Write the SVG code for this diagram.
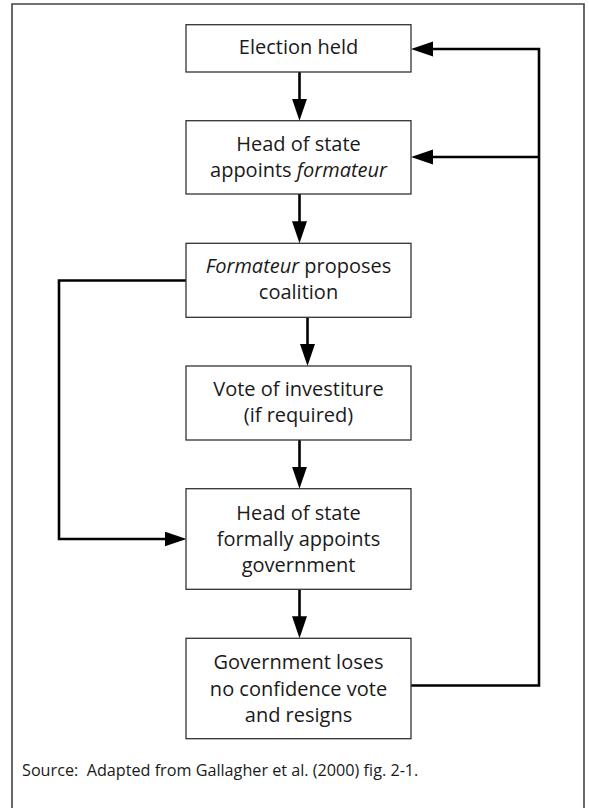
<svg xmlns="http://www.w3.org/2000/svg" width="589" height="808" viewBox="0 0 589 808">
<style>
.box{fill:#fff;stroke:#333;stroke-width:1.3}
.t{font-family:"Open Sans","Noto Sans",sans-serif;font-size:20px;fill:#1a1a1a;text-anchor:middle}
.i{font-style:italic}
.c{fill:none;stroke:#000;stroke-width:2.6;stroke-linejoin:miter}
.src{font-family:"Open Sans","Noto Sans",sans-serif;font-size:16.2px;fill:#1a1a1a}
</style>
<defs>
<marker id="ah" markerUnits="userSpaceOnUse" markerWidth="24" markerHeight="16" refX="16" refY="7.5" orient="auto">
<path d="M0,0 L22,7.5 L0,15 Z" fill="#000"/>
</marker>
</defs>
<rect width="589" height="808" fill="#fff"/>
<path d="M12,820 V4 H584 V820" fill="none" stroke="#444" stroke-width="1.6"/>
<g id="connectors">
<path class="c" d="M299.5,72 V114.7" marker-end="url(#ah)"/>
<path class="c" d="M299.5,194 V237.3" marker-end="url(#ah)"/>
<path class="c" d="M307.5,317.3 V360" marker-end="url(#ah)"/>
<path class="c" d="M299.5,440 V482.7" marker-end="url(#ah)"/>
<path class="c" d="M299.5,589.3 V632.3" marker-end="url(#ah)"/>
<path class="c" d="M186,280.5 H59 V539 H180.5" marker-end="url(#ah)"/>
<path class="c" d="M411,685.5 H539 V49 H417" marker-end="url(#ah)"/>
<path class="c" d="M539,157 H417" marker-end="url(#ah)"/>
</g>
<g id="n1">
<rect class="box" x="186" y="24.7" width="225" height="47.3"/>
<text class="t" x="298.5" y="54">Election held</text>
</g>
<g id="n2">
<rect class="box" x="186" y="120.7" width="225" height="73.3"/>
<text class="t" x="298.5" y="150.5">Head of state</text>
<text class="t" x="298.5" y="177">appoints <tspan class="i">formateur</tspan></text>
</g>
<g id="n3">
<rect class="box" x="186" y="243.3" width="225" height="74"/>
<text class="t" x="298.5" y="272.5"><tspan class="i">Formateur</tspan> proposes</text>
<text class="t" x="298.5" y="299">coalition</text>
</g>
<g id="n4">
<rect class="box" x="186" y="366" width="225" height="74"/>
<text class="t" x="298.5" y="395.5">Vote of investiture</text>
<text class="t" x="298.5" y="422">(if required)</text>
</g>
<g id="n5">
<rect class="box" x="186" y="488.7" width="225" height="100.6"/>
<text class="t" x="298.5" y="519.5">Head of state</text>
<text class="t" x="298.5" y="546">formally appoints</text>
<text class="t" x="298.5" y="571.5">government</text>
</g>
<g id="n6">
<rect class="box" x="186" y="638.3" width="225" height="100.4"/>
<text class="t" x="298.5" y="669">Government loses</text>
<text class="t" x="298.5" y="695.5">no confidence vote</text>
<text class="t" x="298.5" y="721.5">and resigns</text>
</g>
<text class="src" x="22" y="776" xml:space="preserve">Source:  Adapted from Gallagher et al. (2000) fig. 2-1.</text>
</svg>
